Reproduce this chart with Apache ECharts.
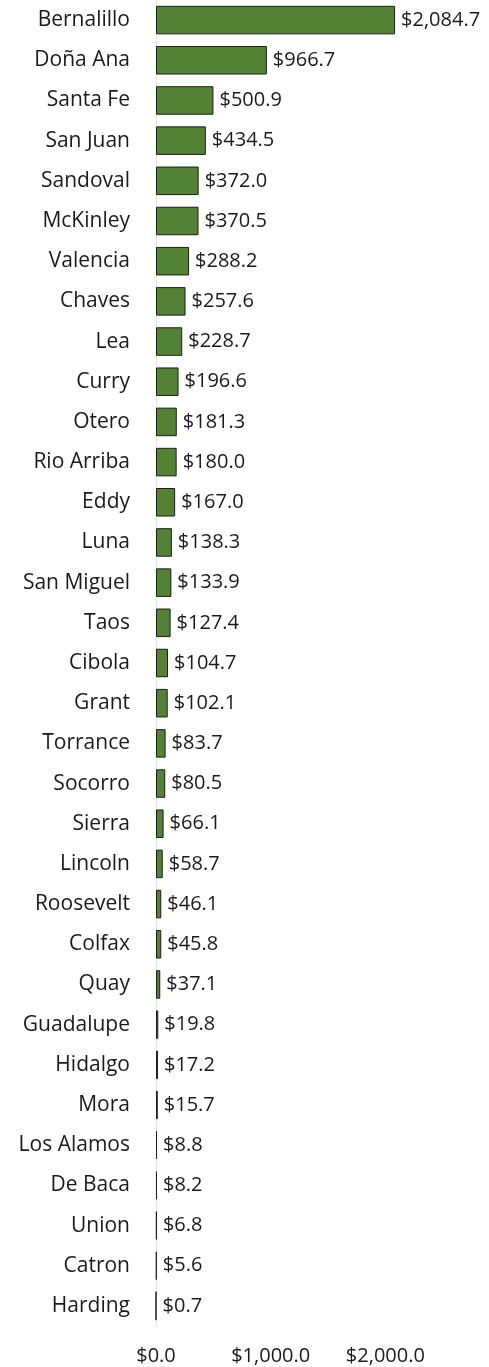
<!DOCTYPE html>
<html lang="en">
  <head>
    <meta charset="utf-8" />
    <title>New Mexico counties</title>
    <script src="https://cdn.jsdelivr.net/npm/echarts@6/dist/echarts.min.js"></script>
    <style>
      html, body { margin: 0; padding: 0; background: #fff; }
      #chart { width: 489px; height: 1367px; }
    </style>
  </head>
  <body>
    <div id="chart"></div>
    <script type="text/javascript">
      // counties, top to bottom as in the picture
      var counties = [
        "Bernalillo", "Doña Ana", "Santa Fe", "San Juan", "Sandoval", "McKinley",
        "Valencia", "Chaves", "Lea", "Curry", "Otero", "Rio Arriba", "Eddy",
        "Luna", "San Miguel", "Taos", "Cibola", "Grant", "Torrance", "Socorro",
        "Sierra", "Lincoln", "Roosevelt", "Colfax", "Quay", "Guadalupe",
        "Hidalgo", "Mora", "Los Alamos", "De Baca", "Union", "Catron", "Harding"
      ];
      var amounts = [
        2084.7, 966.7, 500.9, 434.5, 372.0, 370.5, 288.2, 257.6, 228.7, 196.6,
        181.3, 180.0, 167.0, 138.3, 133.9, 127.4, 104.7, 102.1, 83.7, 80.5,
        66.1, 58.7, 46.1, 45.8, 37.1, 19.8, 17.2, 15.7, 8.8, 8.2, 6.8, 5.6, 0.7
      ];
      var tickStep = 1000;

      function money(v) {
        return "$" + v.toLocaleString("en-US", { minimumFractionDigits: 1, maximumFractionDigits: 1 });
      }

      var font = "'Open Sans', sans-serif";
      var myChart = echarts.init(document.getElementById("chart"));
      myChart.setOption({
        animation: false,
        grid: { left: 156, right: 489 - 156 - 286.7, top: 0, bottom: 41, containLabel: false },
        xAxis: {
          type: "value",
          min: 0,
          max: 2500,
          interval: tickStep,
          splitLine: { show: false },
          axisLine: { show: false },
          axisTick: { show: false },
          axisLabel: {
            showMaxLabel: false,
            margin: 20,
            color: "#1a1a1a",
            fontFamily: font,
            fontSize: 20,
            formatter: money,
          },
        },
        yAxis: {
          type: "category",
          inverse: true,
          data: counties,
          axisLine: { show: true, lineStyle: { color: "#e3e3e3", width: 1 } },
          axisTick: { show: false },
          axisLabel: {
            margin: 26,
            color: "#1a1a1a",
            fontFamily: font,
            fontSize: 21,
          },
        },
        series: [
          {
            type: "bar",
            data: amounts,
            barWidth: "71%",
            itemStyle: { color: "#548235", borderColor: "#1e1e1e", borderWidth: 1 },
            label: {
              show: true,
              position: "right",
              distance: 6,
              color: "#1a1a1a",
              fontFamily: font,
              fontSize: 20,
              formatter: function (p) { return money(p.value); },
            },
          },
        ],
      });
    </script>
  </body>
</html>
